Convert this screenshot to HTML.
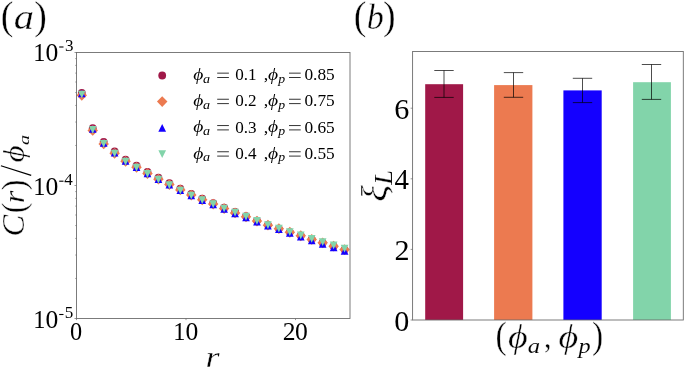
<!DOCTYPE html>
<html><head><meta charset="utf-8"><title>fig</title>
<style>
html,body{margin:0;padding:0;background:#fff;}
body{width:685px;height:368px;overflow:hidden;font-family:"Liberation Serif",serif;}
svg{display:block;will-change:transform;}
text{font-family:"Liberation Serif",serif;fill:#000;stroke:#fff;stroke-width:0.4px;}
.lg text{stroke:none;}
text.tk{stroke:none;}
.i{font-style:italic;}
</style></head><body>
<svg width="685" height="368" viewBox="0 0 685 368">
<rect x="0" y="0" width="685" height="368" fill="#ffffff"/>
<g>
<circle cx="81.77" cy="93.00" r="3.9" fill="#a01848"/>
<circle cx="92.72" cy="128.23" r="3.9" fill="#a01848"/>
<circle cx="103.67" cy="141.87" r="3.9" fill="#a01848"/>
<circle cx="114.62" cy="151.40" r="3.9" fill="#a01848"/>
<circle cx="125.57" cy="159.55" r="3.9" fill="#a01848"/>
<circle cx="136.52" cy="165.70" r="3.9" fill="#a01848"/>
<circle cx="147.47" cy="171.95" r="3.9" fill="#a01848"/>
<circle cx="158.43" cy="177.70" r="3.9" fill="#a01848"/>
<circle cx="169.38" cy="183.25" r="3.9" fill="#a01848"/>
<circle cx="180.32" cy="188.70" r="3.9" fill="#a01848"/>
<circle cx="191.27" cy="193.96" r="3.9" fill="#a01848"/>
<circle cx="202.22" cy="198.72" r="3.9" fill="#a01848"/>
<circle cx="213.18" cy="203.08" r="3.9" fill="#a01848"/>
<circle cx="224.12" cy="207.64" r="3.9" fill="#a01848"/>
<circle cx="235.07" cy="212.00" r="3.9" fill="#a01848"/>
<circle cx="246.02" cy="216.15" r="3.9" fill="#a01848"/>
<circle cx="256.97" cy="220.60" r="3.9" fill="#a01848"/>
<circle cx="267.93" cy="224.85" r="3.9" fill="#a01848"/>
<circle cx="278.88" cy="228.60" r="3.9" fill="#a01848"/>
<circle cx="289.82" cy="232.10" r="3.9" fill="#a01848"/>
<circle cx="300.77" cy="235.60" r="3.9" fill="#a01848"/>
<circle cx="311.72" cy="239.20" r="3.9" fill="#a01848"/>
<circle cx="322.67" cy="242.67" r="3.9" fill="#a01848"/>
<circle cx="333.62" cy="246.13" r="3.9" fill="#a01848"/>
<circle cx="344.57" cy="249.60" r="3.9" fill="#a01848"/>
<path d="M81.77 89.90L87.02 95.30L81.77 100.70L76.52 95.30Z" fill="#ec7a50"/>
<path d="M92.72 125.00L97.97 130.40L92.72 135.80L87.47 130.40Z" fill="#ec7a50"/>
<path d="M103.67 138.50L108.92 143.90L103.67 149.30L98.42 143.90Z" fill="#ec7a50"/>
<path d="M114.62 147.90L119.88 153.30L114.62 158.70L109.38 153.30Z" fill="#ec7a50"/>
<path d="M125.57 155.93L130.82 161.33L125.57 166.73L120.32 161.33Z" fill="#ec7a50"/>
<path d="M136.52 161.97L141.77 167.37L136.52 172.77L131.27 167.37Z" fill="#ec7a50"/>
<path d="M147.47 168.10L152.72 173.50L147.47 178.90L142.22 173.50Z" fill="#ec7a50"/>
<path d="M158.43 173.73L163.68 179.13L158.43 184.53L153.18 179.13Z" fill="#ec7a50"/>
<path d="M169.38 179.17L174.62 184.57L169.38 189.97L164.12 184.57Z" fill="#ec7a50"/>
<path d="M180.32 184.50L185.57 189.90L180.32 195.30L175.07 189.90Z" fill="#ec7a50"/>
<path d="M191.27 189.70L196.52 195.10L191.27 200.50L186.02 195.10Z" fill="#ec7a50"/>
<path d="M202.22 194.40L207.47 199.80L202.22 205.20L196.97 199.80Z" fill="#ec7a50"/>
<path d="M213.18 198.70L218.43 204.10L213.18 209.50L207.93 204.10Z" fill="#ec7a50"/>
<path d="M224.12 203.20L229.38 208.60L224.12 214.00L218.88 208.60Z" fill="#ec7a50"/>
<path d="M235.07 207.50L240.32 212.90L235.07 218.30L229.82 212.90Z" fill="#ec7a50"/>
<path d="M246.02 211.45L251.27 216.85L246.02 222.25L240.77 216.85Z" fill="#ec7a50"/>
<path d="M256.97 215.70L262.22 221.10L256.97 226.50L251.72 221.10Z" fill="#ec7a50"/>
<path d="M267.93 219.75L273.18 225.15L267.93 230.55L262.68 225.15Z" fill="#ec7a50"/>
<path d="M278.88 223.30L284.12 228.70L278.88 234.10L273.62 228.70Z" fill="#ec7a50"/>
<path d="M289.82 226.83L295.07 232.23L289.82 237.63L284.57 232.23Z" fill="#ec7a50"/>
<path d="M300.77 230.37L306.02 235.77L300.77 241.17L295.52 235.77Z" fill="#ec7a50"/>
<path d="M311.72 234.00L316.97 239.40L311.72 244.80L306.47 239.40Z" fill="#ec7a50"/>
<path d="M322.67 237.40L327.92 242.80L322.67 248.20L317.42 242.80Z" fill="#ec7a50"/>
<path d="M333.62 240.80L338.88 246.20L333.62 251.60L328.38 246.20Z" fill="#ec7a50"/>
<path d="M344.57 244.20L349.82 249.60L344.57 255.00L339.32 249.60Z" fill="#ec7a50"/>
<path d="M81.77 89.65L85.62 97.35L77.92 97.35Z" fill="#1400ff"/>
<path d="M92.72 125.17L96.57 132.87L88.88 132.87Z" fill="#1400ff"/>
<path d="M103.67 139.08L107.52 146.78L99.83 146.78Z" fill="#1400ff"/>
<path d="M114.62 148.90L118.47 156.60L110.78 156.60Z" fill="#1400ff"/>
<path d="M125.57 157.08L129.42 164.78L121.72 164.78Z" fill="#1400ff"/>
<path d="M136.52 163.27L140.37 170.97L132.67 170.97Z" fill="#1400ff"/>
<path d="M147.47 169.55L151.32 177.25L143.62 177.25Z" fill="#1400ff"/>
<path d="M158.43 175.33L162.28 183.03L154.58 183.03Z" fill="#1400ff"/>
<path d="M169.38 180.92L173.22 188.62L165.53 188.62Z" fill="#1400ff"/>
<path d="M180.32 186.40L184.17 194.10L176.47 194.10Z" fill="#1400ff"/>
<path d="M191.27 191.61L195.12 199.31L187.42 199.31Z" fill="#1400ff"/>
<path d="M202.22 196.32L206.07 204.02L198.38 204.02Z" fill="#1400ff"/>
<path d="M213.18 200.63L217.03 208.33L209.33 208.33Z" fill="#1400ff"/>
<path d="M224.12 205.14L227.97 212.84L220.28 212.84Z" fill="#1400ff"/>
<path d="M235.07 209.45L238.92 217.15L231.22 217.15Z" fill="#1400ff"/>
<path d="M246.02 213.44L249.87 221.14L242.17 221.14Z" fill="#1400ff"/>
<path d="M256.97 217.73L260.82 225.43L253.12 225.43Z" fill="#1400ff"/>
<path d="M267.93 221.81L271.78 229.51L264.07 229.51Z" fill="#1400ff"/>
<path d="M278.88 225.40L282.73 233.10L275.02 233.10Z" fill="#1400ff"/>
<path d="M289.82 229.05L293.68 236.75L285.97 236.75Z" fill="#1400ff"/>
<path d="M300.77 232.70L304.62 240.40L296.92 240.40Z" fill="#1400ff"/>
<path d="M311.72 236.45L315.57 244.15L307.87 244.15Z" fill="#1400ff"/>
<path d="M322.67 239.98L326.52 247.68L318.82 247.68Z" fill="#1400ff"/>
<path d="M333.62 243.52L337.48 251.22L329.77 251.22Z" fill="#1400ff"/>
<path d="M344.57 247.05L348.43 254.75L340.72 254.75Z" fill="#1400ff"/>
<path d="M81.77 98.35L85.62 90.65L77.92 90.65Z" fill="#82d4aa"/>
<path d="M92.72 133.78L96.57 126.08L88.88 126.08Z" fill="#82d4aa"/>
<path d="M103.67 147.62L107.52 139.92L99.83 139.92Z" fill="#82d4aa"/>
<path d="M114.62 157.35L118.47 149.65L110.78 149.65Z" fill="#82d4aa"/>
<path d="M125.57 165.45L129.42 157.75L121.72 157.75Z" fill="#82d4aa"/>
<path d="M136.52 171.55L140.37 163.85L132.67 163.85Z" fill="#82d4aa"/>
<path d="M147.47 177.75L151.32 170.05L143.62 170.05Z" fill="#82d4aa"/>
<path d="M158.43 183.45L162.28 175.75L154.58 175.75Z" fill="#82d4aa"/>
<path d="M169.38 188.95L173.22 181.25L165.53 181.25Z" fill="#82d4aa"/>
<path d="M180.32 194.35L184.17 186.65L176.47 186.65Z" fill="#82d4aa"/>
<path d="M191.27 199.37L195.12 191.67L187.42 191.67Z" fill="#82d4aa"/>
<path d="M202.22 203.89L206.07 196.19L198.38 196.19Z" fill="#82d4aa"/>
<path d="M213.18 208.01L217.03 200.31L209.33 200.31Z" fill="#82d4aa"/>
<path d="M224.12 212.33L227.97 204.63L220.28 204.63Z" fill="#82d4aa"/>
<path d="M235.07 216.45L238.92 208.75L231.22 208.75Z" fill="#82d4aa"/>
<path d="M246.02 220.47L249.87 212.78L242.17 212.78Z" fill="#82d4aa"/>
<path d="M256.97 224.80L260.82 217.10L253.12 217.10Z" fill="#82d4aa"/>
<path d="M267.93 228.92L271.78 221.22L264.07 221.22Z" fill="#82d4aa"/>
<path d="M278.88 232.55L282.73 224.85L275.02 224.85Z" fill="#82d4aa"/>
<path d="M289.82 235.93L293.68 228.23L285.97 228.23Z" fill="#82d4aa"/>
<path d="M300.77 239.32L304.62 231.62L296.92 231.62Z" fill="#82d4aa"/>
<path d="M311.72 242.80L315.57 235.10L307.87 235.10Z" fill="#82d4aa"/>
<path d="M322.67 246.02L326.52 238.32L318.82 238.32Z" fill="#82d4aa"/>
<path d="M333.62 249.23L337.48 241.53L329.77 241.53Z" fill="#82d4aa"/>
<path d="M344.57 252.45L348.43 244.75L340.72 244.75Z" fill="#82d4aa"/>
</g>
<rect x="76.5" y="52.5" width="273.5" height="266.0" fill="none" stroke="#6a6a6a" stroke-width="0.88"/>
<path d="M76.5 145.46h-1.2 M76.5 122.04h-1.2 M76.5 105.43h-1.2 M76.5 92.54h-1.2 M76.5 82.01h-1.2 M76.5 73.10h-1.2 M76.5 65.39h-1.2 M76.5 58.59h-1.2 M76.5 278.46h-1.2 M76.5 255.04h-1.2 M76.5 238.43h-1.2 M76.5 225.54h-1.2 M76.5 215.01h-1.2 M76.5 206.10h-1.2 M76.5 198.39h-1.2 M76.5 191.59h-1.2 M76.5 52.50h-2 M76.5 185.50h-2 M76.5 318.50h-2 M76.50 318.5v1.6 M186.00 318.5v1.6 M295.50 318.5v1.6" stroke="#6a6a6a" stroke-width="0.7" fill="none"/>
<text transform="translate(33.26,61.30) scale(0.950,1.000)" font-size="25.6" class="tk">1</text>
<text transform="translate(45.52,61.30) scale(1.000,1.000)" font-size="25.6" class="tk">0</text>
<text transform="translate(64.99,51.30) scale(1.000,1.000)" font-size="17" class="tk">3</text>
<path d="M59.2 47.00h4.3" stroke="#000" stroke-width="1.1" fill="none"/>
<text transform="translate(33.26,194.60) scale(0.950,1.000)" font-size="25.6" class="tk">1</text>
<text transform="translate(45.52,194.60) scale(1.000,1.000)" font-size="25.6" class="tk">0</text>
<text transform="translate(64.27,184.90) scale(1.000,1.000)" font-size="17" class="tk">4</text>
<path d="M59.2 181.20h4.3" stroke="#000" stroke-width="1.1" fill="none"/>
<text transform="translate(33.26,328.00) scale(0.950,1.000)" font-size="25.6" class="tk">1</text>
<text transform="translate(45.52,328.00) scale(1.000,1.000)" font-size="25.6" class="tk">0</text>
<text transform="translate(64.71,317.50) scale(1.000,1.000)" font-size="17" class="tk">5</text>
<path d="M59.2 314.50h4.3" stroke="#000" stroke-width="1.1" fill="none"/>
<text transform="translate(69.97,339.80) scale(0.950,1.000)" font-size="25.6" class="tk">0</text>
<text transform="translate(173.16,339.60) scale(0.950,1.000)" font-size="25.6" class="tk">1</text>
<text transform="translate(185.53,339.60) scale(1.000,1.000)" font-size="25.6" class="tk">0</text>
<text transform="translate(282.77,339.60) scale(1.000,1.000)" font-size="25.6" class="tk">2</text>
<text transform="translate(295.12,339.60) scale(1.000,1.000)" font-size="25.6" class="tk">0</text>
<text class="i" transform="translate(205.53,366.60) scale(1.210,1.000)" font-size="29.9" style="stroke-width:0.31px">r</text>
<g transform="translate(23.8,235) rotate(-90)">
<text class="i" transform="translate(-1.51,0.00) scale(1.000,1.000)" font-size="32.5" style="stroke-width:0.34px">C</text>
<text transform="translate(21.79,1.00) scale(0.930,1.000)" font-size="34.4" style="stroke-width:0.36px">(</text>
<text class="i" transform="translate(31.68,-0.30) scale(1.140,1.000)" font-size="28.5" style="stroke-width:0.30px">r</text>
<text transform="translate(44.77,1.00) scale(0.930,1.000)" font-size="34.4" style="stroke-width:0.36px">)</text>
<path d="M59.6 7.4L69.3 -22.9" stroke="#000" stroke-width="1.2" fill="none"/>
<text class="i" transform="translate(72.54,0.00) scale(1.140,1.000)" font-size="29.0" style="stroke-width:0.30px">ϕ</text>
<text class="i" transform="translate(89.68,5.40) scale(1.350,1.000)" font-size="15.5" style="stroke-width:0.08px">a</text>
</g>
<text transform="translate(0.73,29.10) scale(0.930,1.000)" font-size="40.8" style="stroke-width:0.40px">(</text>
<text class="i" transform="translate(13.79,28.70) scale(1.165,1.000)" font-size="34.9" style="stroke-width:0.37px">a</text>
<text transform="translate(34.18,29.10) scale(0.930,1.000)" font-size="40.8" style="stroke-width:0.40px">)</text>
<g class="lg">
<circle cx="162.20" cy="75.50" r="3.9" fill="#a01848"/>
<text class="i" transform="translate(193.35,79.90) scale(1.120,1.000)" font-size="17.4" style="stroke-width:0.08px">ϕ</text>
<text class="i" transform="translate(203.08,82.60) scale(1.150,1.000)" font-size="12.3" style="stroke-width:0.08px">a</text>
<path d="M217.2 73.15h11.7M217.2 77.50h11.7" stroke="#111" stroke-width="0.85" fill="none"/>
<text transform="translate(235.25,80.10) scale(1.030,1.000)" font-size="16.6" style="stroke-width:0.08px">0.1</text>
<text transform="translate(263.80,80.10) scale(1.100,1.000)" font-size="16.6" style="stroke-width:0.08px">,</text>
<text class="i" transform="translate(268.05,79.90) scale(1.120,1.000)" font-size="17.4" style="stroke-width:0.08px">ϕ</text>
<text class="i" transform="translate(278.21,82.60) scale(1.120,1.000)" font-size="12.3" style="stroke-width:0.08px">p</text>
<path d="M289 73.15h11.7M289 77.50h11.7" stroke="#111" stroke-width="0.85" fill="none"/>
<text transform="translate(304.44,80.10) scale(1.045,1.000)" font-size="16.6" style="stroke-width:0.08px">0.85</text>
<path d="M162.20 96.20L167.45 101.60L162.20 107.00L156.95 101.60Z" fill="#ec7a50"/>
<text class="i" transform="translate(193.35,106.00) scale(1.120,1.000)" font-size="17.4" style="stroke-width:0.08px">ϕ</text>
<text class="i" transform="translate(203.08,108.70) scale(1.150,1.000)" font-size="12.3" style="stroke-width:0.08px">a</text>
<path d="M217.2 99.25h11.7M217.2 103.60h11.7" stroke="#111" stroke-width="0.85" fill="none"/>
<text transform="translate(235.25,106.20) scale(1.030,1.000)" font-size="16.6" style="stroke-width:0.08px">0.2</text>
<text transform="translate(263.80,106.20) scale(1.100,1.000)" font-size="16.6" style="stroke-width:0.08px">,</text>
<text class="i" transform="translate(268.05,106.00) scale(1.120,1.000)" font-size="17.4" style="stroke-width:0.08px">ϕ</text>
<text class="i" transform="translate(278.21,108.70) scale(1.120,1.000)" font-size="12.3" style="stroke-width:0.08px">p</text>
<path d="M289 99.25h11.7M289 103.60h11.7" stroke="#111" stroke-width="0.85" fill="none"/>
<text transform="translate(304.44,106.20) scale(1.045,1.000)" font-size="16.6" style="stroke-width:0.08px">0.75</text>
<path d="M162.20 124.05L166.05 131.75L158.35 131.75Z" fill="#1400ff"/>
<text class="i" transform="translate(193.35,132.30) scale(1.120,1.000)" font-size="17.4" style="stroke-width:0.08px">ϕ</text>
<text class="i" transform="translate(203.08,135.00) scale(1.150,1.000)" font-size="12.3" style="stroke-width:0.08px">a</text>
<path d="M217.2 125.55h11.7M217.2 129.90h11.7" stroke="#111" stroke-width="0.85" fill="none"/>
<text transform="translate(235.25,132.50) scale(1.030,1.000)" font-size="16.6" style="stroke-width:0.08px">0.3</text>
<text transform="translate(263.80,132.50) scale(1.100,1.000)" font-size="16.6" style="stroke-width:0.08px">,</text>
<text class="i" transform="translate(268.05,132.30) scale(1.120,1.000)" font-size="17.4" style="stroke-width:0.08px">ϕ</text>
<text class="i" transform="translate(278.21,135.00) scale(1.120,1.000)" font-size="12.3" style="stroke-width:0.08px">p</text>
<path d="M289 125.55h11.7M289 129.90h11.7" stroke="#111" stroke-width="0.85" fill="none"/>
<text transform="translate(304.44,132.50) scale(1.045,1.000)" font-size="16.6" style="stroke-width:0.08px">0.65</text>
<path d="M162.20 157.95L166.05 150.25L158.35 150.25Z" fill="#82d4aa"/>
<text class="i" transform="translate(193.35,158.50) scale(1.120,1.000)" font-size="17.4" style="stroke-width:0.08px">ϕ</text>
<text class="i" transform="translate(203.08,161.20) scale(1.150,1.000)" font-size="12.3" style="stroke-width:0.08px">a</text>
<path d="M217.2 151.75h11.7M217.2 156.10h11.7" stroke="#111" stroke-width="0.85" fill="none"/>
<text transform="translate(235.25,158.70) scale(1.030,1.000)" font-size="16.6" style="stroke-width:0.08px">0.4</text>
<text transform="translate(263.80,158.70) scale(1.100,1.000)" font-size="16.6" style="stroke-width:0.08px">,</text>
<text class="i" transform="translate(268.05,158.50) scale(1.120,1.000)" font-size="17.4" style="stroke-width:0.08px">ϕ</text>
<text class="i" transform="translate(278.21,161.20) scale(1.120,1.000)" font-size="12.3" style="stroke-width:0.08px">p</text>
<path d="M289 151.75h11.7M289 156.10h11.7" stroke="#111" stroke-width="0.85" fill="none"/>
<text transform="translate(304.44,158.70) scale(1.045,1.000)" font-size="16.6" style="stroke-width:0.08px">0.55</text>
</g>
<rect x="425.2" y="84.2" width="37.90" height="235.80" fill="#a01848"/>
<rect x="494.1" y="85.1" width="38.30" height="234.90" fill="#ec7a50"/>
<rect x="563.4" y="90.4" width="38.30" height="229.60" fill="#1400ff"/>
<rect x="633.1" y="82.2" width="37.80" height="237.80" fill="#82d4aa"/>
<path d="M444.00 70.5V97.4M434.30 70.5h19.4M434.30 97.4h19.4" stroke="#000" stroke-opacity="0.78" stroke-width="0.9" fill="none"/>
<path d="M513.50 72.6V97.3M503.80 72.6h19.4M503.80 97.3h19.4" stroke="#000" stroke-opacity="0.78" stroke-width="0.9" fill="none"/>
<path d="M582.50 78.3V102.6M572.80 78.3h19.4M572.80 102.6h19.4" stroke="#000" stroke-opacity="0.78" stroke-width="0.9" fill="none"/>
<path d="M651.50 64.5V99.4M641.80 64.5h19.4M641.80 99.4h19.4" stroke="#000" stroke-opacity="0.78" stroke-width="0.9" fill="none"/>
<rect x="412.6" y="51.5" width="270.70" height="268.50" fill="none" stroke="#6a6a6a" stroke-width="0.88"/>
<path d="M410.6 320.00h2 M410.6 249.40h2 M410.6 178.80h2 M410.6 108.20h2" stroke="#6a6a6a" stroke-width="0.7" fill="none"/>
<text transform="translate(394.15,330.90) scale(1.000,1.000)" font-size="30.1" class="tk">0</text>
<text transform="translate(394.58,259.80) scale(1.000,1.000)" font-size="30.1" class="tk">2</text>
<text transform="translate(394.44,189.30) scale(0.960,1.000)" font-size="30.1" class="tk">4</text>
<text transform="translate(394.31,118.80) scale(1.000,1.000)" font-size="30.1" class="tk">6</text>
<text transform="translate(353.83,29.10) scale(0.930,1.000)" font-size="40.8" style="stroke-width:0.40px">(</text>
<text class="i" transform="translate(366.74,29.00) scale(0.930,1.000)" font-size="36.6" style="stroke-width:0.38px">b</text>
<text transform="translate(382.98,29.10) scale(0.930,1.000)" font-size="40.8" style="stroke-width:0.40px">)</text>
<text transform="translate(495.42,348.00) scale(0.900,1.000)" font-size="37.3" style="stroke-width:0.39px">(</text>
<text class="i" transform="translate(508.03,347.60) scale(1.140,1.000)" font-size="33.4" style="stroke-width:0.35px">ϕ</text>
<text class="i" transform="translate(527.76,353.30) scale(1.157,1.000)" font-size="21.4" style="stroke-width:0.08px">a</text>
<text transform="translate(543.97,348.30) scale(0.900,1.000)" font-size="33" style="stroke-width:0.35px">,</text>
<text class="i" transform="translate(558.43,347.60) scale(1.140,1.000)" font-size="33.4" style="stroke-width:0.35px">ϕ</text>
<text class="i" transform="translate(578.42,352.90) scale(1.110,1.000)" font-size="21.8" style="stroke-width:0.08px">p</text>
<text transform="translate(592.12,348.00) scale(0.900,1.000)" font-size="37.3" style="stroke-width:0.39px">)</text>
<g transform="translate(386.2,200.5) rotate(-90)">
<text class="i" transform="translate(-1.34,0.00) scale(1.120,1.000)" font-size="34.9" style="stroke-width:0.37px">ξ</text>
<text class="i" transform="translate(15.72,5.50) scale(1.080,1.000)" font-size="24.9" style="stroke-width:0.08px">L</text>
</g>
</svg></body></html>
